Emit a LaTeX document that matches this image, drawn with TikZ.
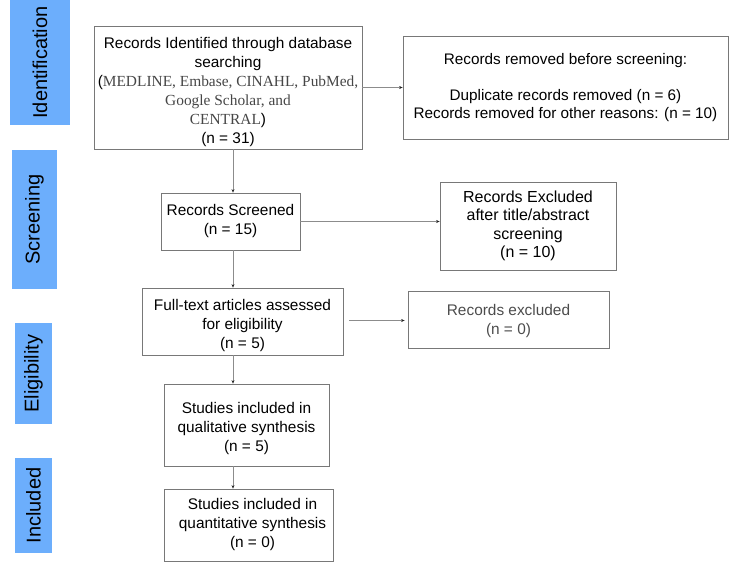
\documentclass[tikz,border=0pt]{standalone}
\usepackage{fontspec}
\setmainfont{Liberation Sans}
\newfontfamily\serifg{Liberation Serif}
\usetikzlibrary{arrows.meta,positioning}
\definecolor{barblue}{RGB}{108,174,252}
\definecolor{boxline}{RGB}{120,120,120}
\definecolor{lineg}{RGB}{140,140,140}
\definecolor{dbgray}{RGB}{70,70,70}
\newcommand{\topstrut}[1]{\rule{0pt}{#1}}
\begin{document}
\begin{tikzpicture}[x=1pt,y=-1pt,
  box/.style={draw=boxline, line width=0.8pt, align=center, inner sep=0pt,
    font=\fontsize{15.4}{19}\selectfont, text=black},
  bar/.style={fill=barblue, draw=none, inner sep=0pt},
  barlabel/.style={rotate=90, font=\fontsize{20}{24}\selectfont, text=black, inner sep=0pt},
  arr/.style={draw=lineg, line width=0.7pt, -{Stealth[length=3.5pt,width=3pt,color=black!85]}}
]
\useasboundingbox (0,0) rectangle (750,562);

% side bars
\node[bar, minimum width=60pt, minimum height=125pt] (bid) at (40,62.5) {};
\node[barlabel] (lid) at (bid.center) {Identification};
\node[bar, minimum width=45pt, minimum height=139pt] (bscr) at (34.5,219.5) {};
\node[barlabel] (lscr) at (bscr.center) {Screening};
\node[bar, minimum width=37pt, minimum height=101pt] (belig) at (33.5,373.5) {};
\node[barlabel] (lelig) at (belig.center) {Eligibility};
\node[bar, minimum width=37pt, minimum height=95pt] (binc) at (33.5,505.5) {};
\node[barlabel] (linc) at (binc.center) {Included};

% boxes
\node[box, minimum width=268pt, minimum height=123pt] (id) at (228,87.5)
  {\topstrut{21pt}Records Identified through database\\ searching\\
   (\textcolor{dbgray}{\serifg MEDLINE, Embase, CINAHL, PubMed,}\\
   \textcolor{dbgray}{\serifg Google Scholar, and}\\
   \textcolor{dbgray}{\serifg CENTRAL})\\ (n = 31)};
\node[box, minimum width=325pt, minimum height=103pt, font=\fontsize{15.3}{18}\selectfont] (rem) at (565.5,87.5)
  {Records removed before screening:\\[18pt]
   Duplicate records removed (n = 6)\\
   Records removed for other reasons: (n = 10)};
\node[box, minimum width=139pt, minimum height=57pt] (scr) at (230.5,221.5)
  {Records Screened\\ (n = 15)};
\node[box, minimum width=176pt, minimum height=88pt, font=\fontsize{16}{18.5}\selectfont] (exc) at (528,226)
  {Records Excluded\\ after title/abstract\\ screening\\ (n = 10)};
\node[box, minimum width=201pt, minimum height=67pt] (ft) at (242.5,321.5)
  {\topstrut{19pt}Full-text articles assessed\\ for eligibility\\ (n = 5)};
\node[box, minimum width=201pt, minimum height=57pt, text=black!70] (exc0) at (508.5,319.5)
  {\topstrut{15pt}Records excluded\\ (n = 0)};
\node[box, minimum width=165pt, minimum height=82pt] (qual) at (246.5,425)
  {\topstrut{19pt}Studies included in\\ qualitative synthesis\\ (n = 5)};
\node[box, minimum width=169pt, minimum height=72pt] (quant) at (248.5,525)
  {\hspace{8pt}Studies included in\\ \hspace{8pt}quantitative synthesis\\ \hspace{8pt}(n = 0)};

% connectors
\coordinate (vx) at (233,0);
\draw[arr] (vx |- id.south) -- (vx |- scr.north);
\draw[arr] (vx |- scr.south) -- (vx |- ft.north);
\draw[arr] (vx |- ft.south) -- (vx |- qual.north);
\draw[arr] (vx |- qual.south) -- (vx |- quant.north);
\draw[arr] (id.east) -- (id.east -| rem.west);
\draw[arr] (scr.east) -- (scr.east -| exc.west);
\draw[arr, shorten <=6pt, shorten >=3pt] ([yshift=1pt]ft.east) -- ([yshift=1pt]ft.east -| exc0.west);
\end{tikzpicture}
\end{document}
